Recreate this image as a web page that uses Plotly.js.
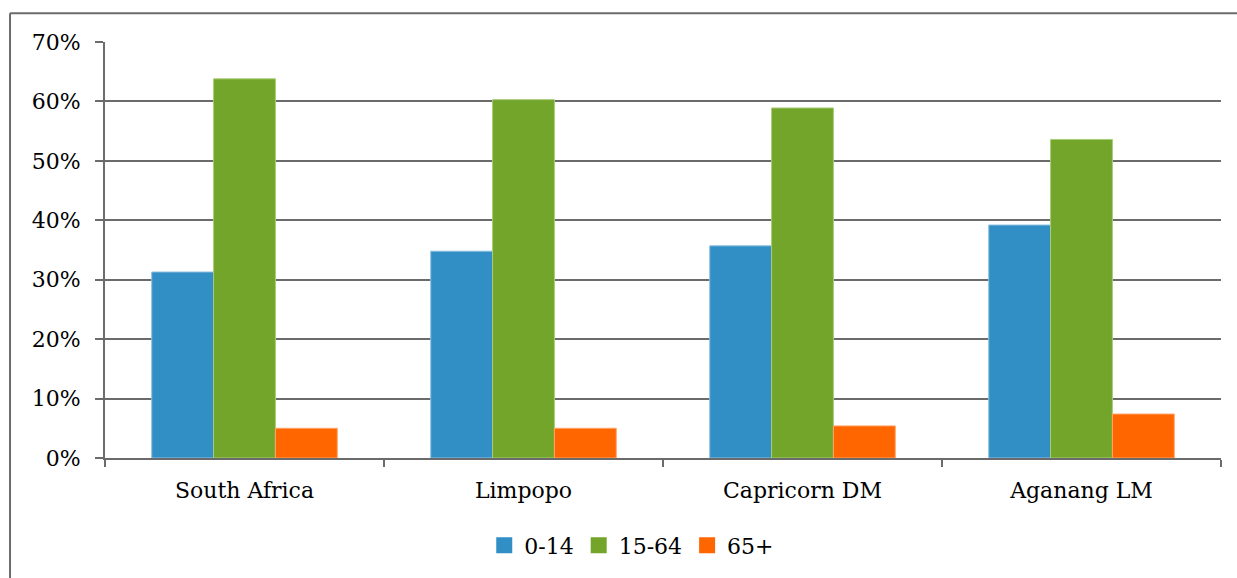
<!DOCTYPE html>
<html>
<head>
<meta charset="utf-8">
<script src="https://cdn.plot.ly/plotly-3.0.1.min.js"></script>
<style>
html,body{margin:0;padding:0;background:#fff;}
#chart{width:1237px;height:578px;}
</style>
</head>
<body>
<div id="chart"></div>
<script>
const categories = ["South Africa", "Limpopo", "Capricorn DM", "Aganang LM"];
const age0to14 = [0.313, 0.348, 0.357, 0.392];
const age15to64 = [0.638, 0.603, 0.589, 0.536];
const age65plus = [0.050, 0.050, 0.054, 0.074];
const seriesNames = ["0-14", "15-64", "65+"];
const seriesColors = ["#318FC6", "#72A529", "#FF6600"];
const seriesEdges = ["#8CC0E0", "#A8CC78", "#FFA466"];
const tickVals = [0, 0.1, 0.2, 0.3, 0.4, 0.5, 0.6, 0.7];

const seriesValues = [age0to14, age15to64, age65plus];
const barTraces = seriesValues.map((vals, i) => ({
  type: "bar",
  name: seriesNames[i],
  x: categories,
  y: vals,
  showlegend: false,
  marker: {color: seriesColors[i], line: {color: seriesEdges[i], width: 1}}
}));
// legend entries with square swatches
const legendTraces = seriesNames.map((n, i) => ({
  type: "scatter",
  mode: "markers",
  name: n,
  x: [null],
  y: [null],
  marker: {symbol: "square", size: 16, color: seriesColors[i]},
  showlegend: true
}));

const font = {family: "'DejaVu Serif', serif", size: 22, color: "#000"};
const frameColor = "#6B6B6B";

const layout = {
  width: 1237, height: 578,
  margin: {l: 105, r: 16, t: 42, b: 118},
  paper_bgcolor: "#fff",
  plot_bgcolor: "#fff",
  font: font,
  barmode: "group",
  bargap: 0.335,
  bargroupgap: 0,
  showlegend: true,
  legend: {
    orientation: "h",
    x: 0.472, xanchor: "center",
    y: -0.16, yanchor: "top",
    font: {family: font.family, size: 22, color: "#000"},
    itemwidth: 30,
    tracegroupgap: 0,
    traceorder: "normal"
  },
  xaxis: {
    type: "category",
    showgrid: false,
    showline: true, linecolor: "#6B6B6B", linewidth: 2,
    ticks: "outside", tickson: "boundaries", ticklen: 7, tickwidth: 2, tickcolor: "#6B6B6B",
    tickfont: font,
    ticklabelstandoff: 12,
    zeroline: false,
    fixedrange: true
  },
  yaxis: {
    range: [0, 0.7],
    tickvals: tickVals,
    tickformat: ".0%",
    showgrid: true, gridcolor: "#6B6B6B", gridwidth: 2,
    showline: true, linecolor: "#6B6B6B", linewidth: 2,
    ticks: "outside", ticklen: 8, tickwidth: 2, tickcolor: "#6B6B6B",
    tickfont: font,
    ticklabelstandoff: 10,
    zeroline: false,
    fixedrange: true
  },
  shapes: [
    {type: "line", xref: "paper", yref: "paper", x0: -0.0851, x1: -0.0851, y0: 1.0694, y1: -0.3, line: {color: frameColor, width: 2}},
    {type: "line", xref: "paper", yref: "paper", x0: -0.0851, x1: 1.02, y0: 1.0694, y1: 1.0694, line: {color: frameColor, width: 2}}
  ]
};

Plotly.newPlot("chart", barTraces.concat(legendTraces), layout, {displayModeBar: false, staticPlot: true});
</script>
</body>
</html>
